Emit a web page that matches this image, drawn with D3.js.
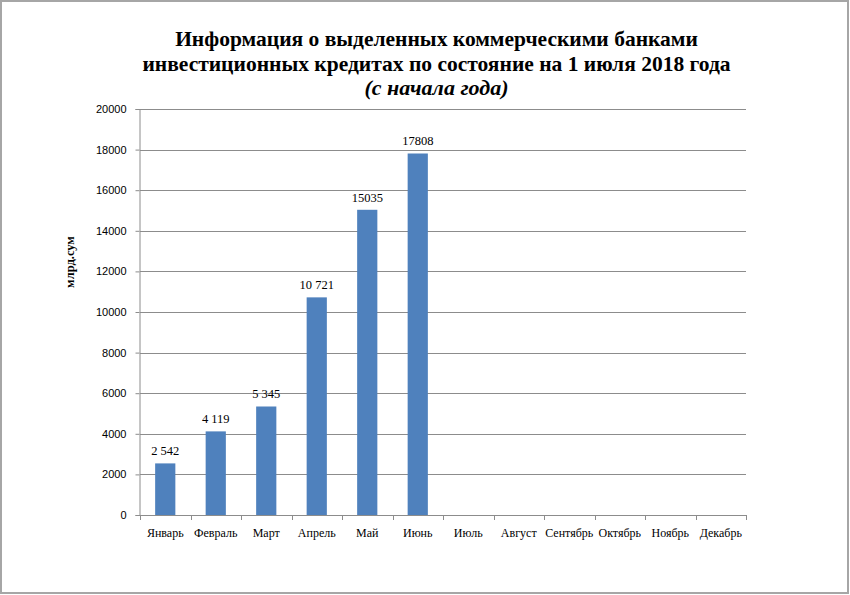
<!DOCTYPE html>
<html><head><meta charset="utf-8">
<script src="https://cdn.jsdelivr.net/npm/d3@7"></script>
<style>body{margin:0;background:#fff}svg{display:block}svg text{font-family:"Liberation Serif","DejaVu Serif","Times New Roman",serif}svg .ytick text{font-family:"Liberation Sans","DejaVu Sans",sans-serif}</style>
</head><body>
<svg id="c" width="850" height="595"></svg>
<script>
const months = ["Январь","Февраль","Март","Апрель","Май","Июнь","Июль","Август","Сентябрь","Октябрь","Ноябрь","Декабрь"];
const values = [2542, 4119, 5345, 10721, 15035, 17808, null, null, null, null, null, null];
const valueLabels = ["2 542","4 119","5 345","10 721","15035","17808"];
const yTicks = [0,2000,4000,6000,8000,10000,12000,14000,16000,18000,20000];
const titleLines = ["Информация о выделенных коммерческими банками","инвестиционных кредитах по состояние на 1 июля 2018 года"];
const subtitle = "(с начала года)";
const yTitle = "млрд.сум";

const svg = d3.select("#c");
svg.append("rect").attr("x",1).attr("y",1).attr("width",847).attr("height",592)
  .attr("fill","#fff").attr("stroke","#a6a6a6").attr("stroke-width",2);

const L=140, R=746, T=109, B=515;
const x = d3.scaleBand().domain(months).range([L,R]).paddingInner(0.6).paddingOuter(0.3);
const y = d3.scaleLinear().domain([0,20000]).range([B,T]);

// gridlines
svg.append("g").selectAll("line").data(yTicks.filter(d=>d>0)).join("line")
  .attr("x1",L).attr("x2",R).attr("y1",d=>Math.round(y(d))+0.5).attr("y2",d=>Math.round(y(d))+0.5)
  .attr("stroke","#8c8c8c").attr("stroke-width",1);

// y axis
const ya = svg.append("g").attr("class","ytick").attr("transform",`translate(${L-0.5},0)`)
  .call(d3.axisLeft(y).tickValues(yTicks).tickSize(4).tickPadding(9).tickFormat(d3.format("d")));
ya.attr("font-family",null);
ya.select(".domain").attr("stroke","#8c8c8c");
ya.selectAll(".tick line").attr("stroke","#8c8c8c");
ya.selectAll("text").attr("font-size",11).attr("fill","#000");

// x axis
const xa = svg.append("g").attr("transform",`translate(0,${B+0.5})`)
  .call(d3.axisBottom(x).tickSize(0).tickPadding(13));
xa.attr("font-family",null);
xa.select(".domain").remove();
xa.selectAll("text").attr("font-size",12).attr("fill","#000");
svg.append("line").attr("x1",L).attr("x2",R).attr("y1",B+0.5).attr("y2",B+0.5).attr("stroke","#8c8c8c");
svg.append("g").selectAll("line").data(d3.range(months.length+1)).join("line")
  .attr("x1",i=>Math.round(L+i*(R-L)/months.length)+0.5).attr("x2",i=>Math.round(L+i*(R-L)/months.length)+0.5)
  .attr("y1",B).attr("y2",B+5).attr("stroke","#8c8c8c");

// bars
const data = months.map((m,i)=>({m, v:values[i], lab:valueLabels[i]})).filter(d=>d.v!=null);
svg.append("g").selectAll("rect").data(data).join("rect")
  .attr("x",d=>x(d.m)).attr("width",x.bandwidth())
  .attr("y",d=>y(d.v)).attr("height",d=>B-y(d.v))
  .attr("fill","#4f81bd");
svg.append("g").selectAll("text").data(data).join("text")
  .attr("x",d=>x(d.m)+x.bandwidth()/2).attr("y",d=>y(d.v)-8)
  .attr("text-anchor","middle").attr("font-size",12.5).text(d=>d.lab);

// titles
const cx = 436.5;
svg.append("text").attr("x",cx).attr("y",46).attr("text-anchor","middle")
  .attr("font-size",21.5).attr("font-weight","bold").text(titleLines[0]);
svg.append("text").attr("x",cx).attr("y",70.5).attr("text-anchor","middle")
  .attr("font-size",21.5).attr("font-weight","bold").text(titleLines[1]);
svg.append("text").attr("x",cx).attr("y",95).attr("text-anchor","middle")
  .attr("font-size",22).attr("font-weight","bold").attr("font-style","italic").text(subtitle);

svg.append("text").attr("transform","translate(74,262) rotate(-90)").attr("text-anchor","middle")
  .attr("font-size",12.5).attr("font-weight","bold").text(yTitle);
</script>
</body></html>
